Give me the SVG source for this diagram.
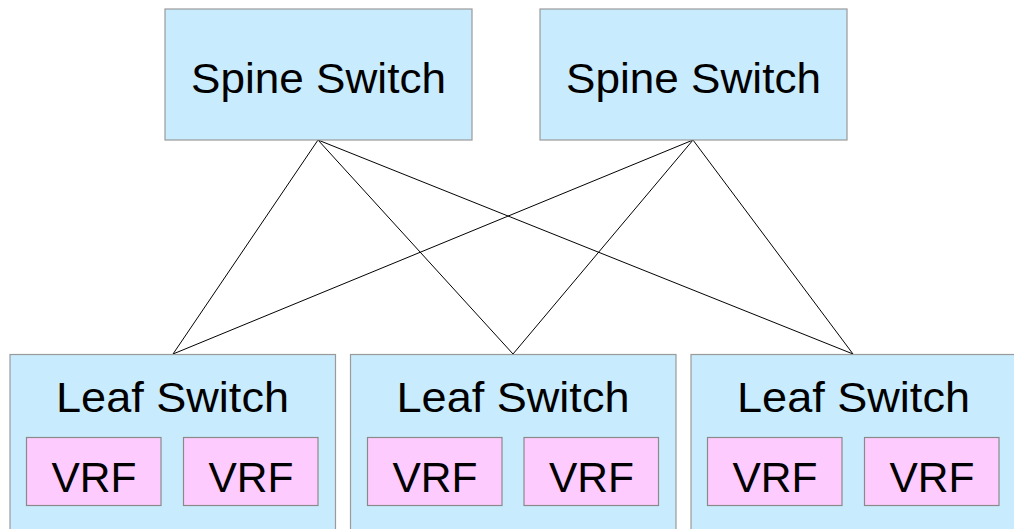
<svg xmlns="http://www.w3.org/2000/svg" width="1014" height="529" viewBox="0 0 1014 529">
<style>
.sw{fill:#c8ecfd;stroke:#9a9a9a;stroke-width:1.2}
.vrf{fill:#fecbfe;stroke:#8a8a8a;stroke-width:1.2}
.t{font-family:"Liberation Sans",Arial,sans-serif;fill:#000;text-anchor:middle}
.big{font-size:42px}
.v{font-size:43px}
.c{stroke:#000;stroke-width:1;fill:none}
</style>
<rect width="1014" height="529" fill="#fff"/>
<g id="connectors">
<line class="c" x1="318" y1="140" x2="173" y2="354"/>
<line class="c" x1="318" y1="140" x2="513" y2="354"/>
<line class="c" x1="318" y1="140" x2="853" y2="354"/>
<line class="c" x1="693" y1="140" x2="173" y2="354"/>
<line class="c" x1="693" y1="140" x2="513" y2="354"/>
<line class="c" x1="693" y1="140" x2="853" y2="354"/>
</g>
<g id="spine1">
<rect class="sw" x="165" y="9" width="307" height="131"/>
<text class="t big" x="318.5" y="93" textLength="255" lengthAdjust="spacingAndGlyphs">Spine Switch</text>
</g>
<g id="spine2">
<rect class="sw" x="540" y="9" width="307" height="131"/>
<text class="t big" x="693.5" y="93" textLength="255" lengthAdjust="spacingAndGlyphs">Spine Switch</text>
</g>
<g id="leaf1">
<rect class="sw" x="10" y="354.5" width="325.5" height="180"/>
<text class="t big" x="172.5" y="412" textLength="233" lengthAdjust="spacingAndGlyphs">Leaf Switch</text>
</g>
<g id="leaf1-vrf1"><rect class="vrf" x="26.5" y="437.5" width="134.5" height="68"/><text class="t v" x="94" y="491.5" textLength="85" lengthAdjust="spacingAndGlyphs">VRF</text></g>
<g id="leaf1-vrf2"><rect class="vrf" x="183.5" y="437.5" width="134.5" height="68"/><text class="t v" x="251" y="491.5" textLength="85" lengthAdjust="spacingAndGlyphs">VRF</text></g>
<g id="leaf2">
<rect class="sw" x="350.5" y="354.5" width="325.5" height="180"/>
<text class="t big" x="513" y="412" textLength="233" lengthAdjust="spacingAndGlyphs">Leaf Switch</text>
</g>
<g id="leaf2-vrf1"><rect class="vrf" x="367.5" y="437.5" width="134.5" height="68"/><text class="t v" x="435" y="491.5" textLength="85" lengthAdjust="spacingAndGlyphs">VRF</text></g>
<g id="leaf2-vrf2"><rect class="vrf" x="524" y="437.5" width="134.5" height="68"/><text class="t v" x="591.5" y="491.5" textLength="85" lengthAdjust="spacingAndGlyphs">VRF</text></g>
<g id="leaf3">
<rect class="sw" x="691" y="354.5" width="330" height="180"/>
<text class="t big" x="853.5" y="412" textLength="233" lengthAdjust="spacingAndGlyphs">Leaf Switch</text>
</g>
<g id="leaf3-vrf1"><rect class="vrf" x="707.5" y="437.5" width="134.5" height="68"/><text class="t v" x="775" y="491.5" textLength="85" lengthAdjust="spacingAndGlyphs">VRF</text></g>
<g id="leaf3-vrf2"><rect class="vrf" x="864.5" y="437.5" width="134.5" height="68"/><text class="t v" x="932" y="491.5" textLength="85" lengthAdjust="spacingAndGlyphs">VRF</text></g>
</svg>
